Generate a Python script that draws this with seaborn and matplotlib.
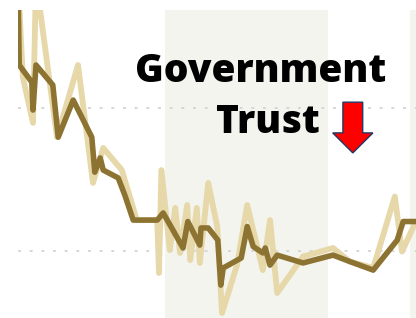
import matplotlib
matplotlib.use("Agg")
import matplotlib.pyplot as plt
from matplotlib.patches import FancyArrow
import pandas as pd
import seaborn as sns

# smoothed trust series (dark) and individual survey readings (light)
trend_year = [1958.0, 1958.2, 1960.3, 1960.5, 1961.0, 1963.8, 1964.7, 1967.2,
              1970.3, 1970.8, 1971.7, 1972.2, 1974.7, 1975.8, 1977.2, 1981.2,
              1982.2, 1985.5, 1986.3, 1988.3, 1988.5, 1989.7, 1991.3, 1991.8,
              1992.2, 1995.2, 1996.2, 1997.2, 1998.8, 1999.2, 2000.0, 2001.2,
              2005.5, 2010.5, 2013.3, 2017.2, 2021.2, 2022.2, 2024.3]
trend_val = [58.0, 46.0, 43.6, 39.7, 46.0, 43.2, 35.9, 41.1,
             35.9, 31.0, 33.0, 31.3, 30.2, 27.8, 24.3, 24.3,
             25.3, 20.4, 24.1, 20.8, 23.2, 23.2, 21.5, 15.2,
             17.6, 19.0, 23.4, 20.6, 19.7, 20.4, 18.0, 19.4,
             18.3, 19.4, 18.5, 17.3, 21.5, 24.1, 24.1]

poll_year = [1958.0, 1958.8, 1960.5, 1961.0, 1964.5, 1968.0, 1970.5, 1972.2,
             1975.3, 1977.8, 1981.2, 1981.5, 1981.9, 1983.3, 1984.2, 1985.0,
             1986.2, 1986.7, 1987.8, 1988.3, 1989.7, 1991.2, 1992.0, 1994.5,
             1996.2, 1998.8, 2000.0, 2001.2, 2005.5, 2010.5, 2013.3, 2017.2,
             2020.8, 2022.0, 2024.3]
poll_val = [58.0, 44.3, 37.9, 58.0, 35.9, 46.0, 29.5, 34.4,
            31.3, 24.3, 24.3, 16.9, 31.3, 20.1, 26.0, 19.7,
            26.4, 18.7, 26.0, 18.3, 29.5, 23.4, 11.3, 18.0,
            26.4, 17.3, 24.3, 14.1, 19.2, 20.4, 18.5, 17.6,
            27.6, 19.9, 24.1]

bands = [(1982.5, 2009.7), (2023.3, 2030.0)]
grid_vals = [20, 40]

trend = pd.DataFrame({"year": trend_year, "trust": trend_val})
polls = pd.DataFrame({"year": poll_year, "trust": poll_val})

sns.set_style("white")
plt.rcParams["font.family"] = ["Open Sans", "DejaVu Sans"]

fig = plt.figure(figsize=(4.16, 3.18), dpi=100)
ax = fig.add_axes([18 / 416, 0, 398 / 416, 308 / 318])

for a, b in bands:
    ax.axvspan(a, b, color="#f4f4ef", lw=0, zorder=0)

sns.lineplot(data=polls, x="year", y="trust", ax=ax, estimator=None, sort=False,
             color="#e7d8aa", lw=4.2, zorder=2)
sns.lineplot(data=trend, x="year", y="trust", ax=ax, estimator=None, sort=False,
             color="#8c7332", lw=4.0, zorder=3)

ax.set_xlim(1958, 2024.33)
ax.set_ylim(10.6, 53.7)
ax.set_yticks(grid_vals)
ax.yaxis.grid(True, linestyle=(0, (1.5, 4.5)), color="#d6d6d6", lw=1.4)
ax.xaxis.grid(False)
ax.set_axisbelow(True)
ax.tick_params(left=False, bottom=False, labelleft=False, labelbottom=False)
ax.set_xlabel("")
ax.set_ylabel("")
sns.despine(ax=ax, left=True, bottom=True)

ax.text(1998.4, 43.6, "Government", ha="center", va="baseline",
        fontsize=28, fontweight=800, color="black", zorder=5)
ax.text(1999.6, 36.5, "Trust", ha="center", va="baseline",
        fontsize=28, fontweight=800, color="black", zorder=5)

ax.add_patch(FancyArrow(2013.8, 40.8, 0, -7.1, width=3.3, head_width=6.7,
                        head_length=2.8, length_includes_head=True,
                        fc="#ff0000", ec="#1f3864", lw=1, zorder=5))

fig.savefig("out.png", dpi=100)
